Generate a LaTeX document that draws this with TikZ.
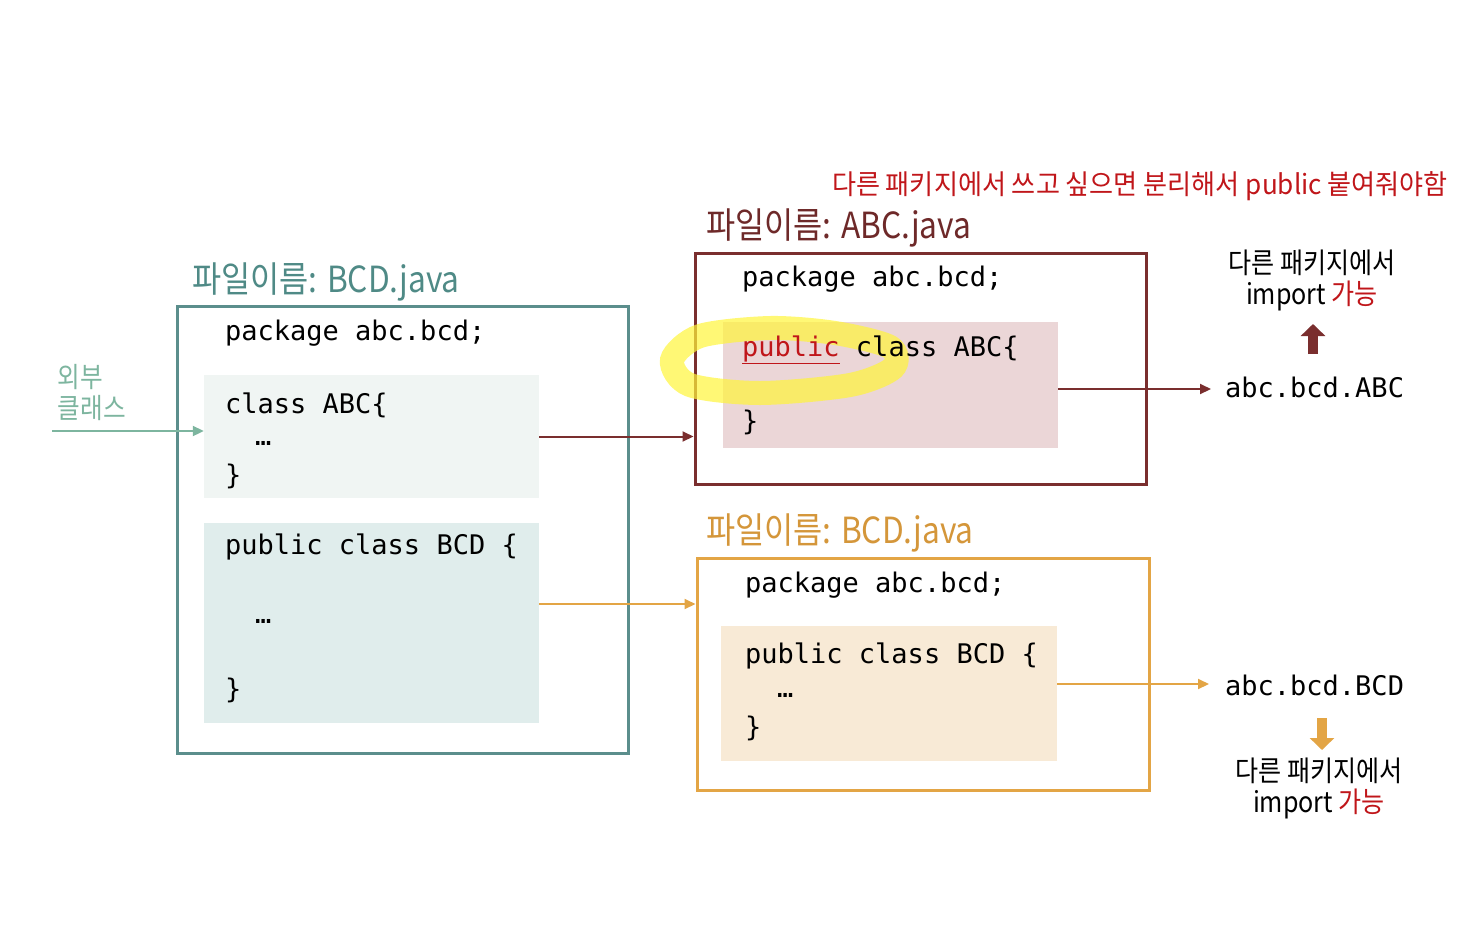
\documentclass[tikz,border=0pt]{standalone}
\usepackage{fontspec}
\setmonofont{DejaVu Sans Mono}
\newfontfamily\kr[FakeStretch=0.88]{Noto Sans CJK KR}
\newfontfamily\krwide[FakeStretch=0.95]{Noto Sans CJK KR}
\usepackage{tikz}
\usetikzlibrary{arrows.meta,positioning,calc}

\definecolor{tealline}{HTML}{5B8E8C}
\definecolor{tealtext}{HTML}{4F8A86}
\definecolor{extgreen}{HTML}{7DB59F}
\definecolor{tealfillA}{HTML}{F0F5F3}
\definecolor{tealfillB}{HTML}{E0EDEC}
\definecolor{darkred}{HTML}{7A2E2E}
\definecolor{pinkfill}{HTML}{EBD6D7}
\definecolor{kred}{HTML}{C0161A}
\definecolor{orangeline}{HTML}{E3A545}
\definecolor{orangetext}{HTML}{D4963A}
\definecolor{orangefill}{HTML}{F8EAD6}
\definecolor{hiyellow}{HTML}{FFF53A}

\begin{document}
\begin{tikzpicture}[
  x=1pt, y=-1pt,
  filebox/.style={draw, line width=3pt, minimum width=#1},
  classbox/.style={draw=none, inner sep=0pt},
  code/.style={anchor=west, inner sep=0pt, font=\ttfamily\fontsize{27}{32}\selectfont},
  title/.style={anchor=west, inner sep=0pt, font=\kr\fontsize{36}{40}\selectfont},
  label/.style={align=center, inner sep=0pt, font=\kr\fontsize{28.5}{31}\selectfont},
  wire/.style={-{Triangle[length=11pt,width=10pt]}, line width=2pt},
  fat/.style={-{Triangle[length=12pt,width=24pt]}, line width=10pt}
]
\useasboundingbox (0,0) rectangle (1476,930);

% left file: BCD.java
\node[filebox=451pt, draw=tealline, minimum height=447pt] (leftfile) at (402.5,529.5) {};
\node[title, text=tealtext] (lefttitle) at (192,282) {파일이름: BCD.java};
\node[classbox, fill=tealfillA, minimum width=335pt, minimum height=123pt] (clsabc) at (371.5,436.5) {};
\node[classbox, fill=tealfillB, minimum width=335pt, minimum height=200pt] (clsbcd) at (371.5,623) {};
\node[code] (lpkg) at (225,333) {package abc.bcd;};
\node[code] (labc1) at (225,405) {class ABC\{};
\node[code] (labc2) at (255,443) {…};
\node[code] (labc3) at (225,476) {\}};
\node[code] (lbcd1) at (225,547) {public class BCD \{};
\node[code] (lbcd2) at (255,621) {…};
\node[code] (lbcd3) at (225,690) {\}};

% outside class
\node[label, text=extgreen, align=left, font=\kr\fontsize{28}{31}\selectfont] (ext) at (92,393) {외부\\클래스};
\coordinate (extstart) at (52,431);
\draw[wire, extgreen] (extstart) -- (extstart -| clsabc.west);

% right top file: ABC.java
\node[filebox=451pt, draw=darkred, minimum height=231pt] (abcfile) at (920.5,368.5) {};
\node[title, text=darkred!90!black] (abctitle) at (706,228) {파일이름: ABC.java};
\node[label, text=kred, font=\krwide\fontsize{27.5}{30}\selectfont] (warn) at (1140,186) {다른 패키지에서 쓰고 싶으면 분리해서 public 붙여줘야함};
\node[classbox, fill=pinkfill, minimum width=335pt, minimum height=126pt] (pubabc) at (890.5,385) {};
\draw[hiyellow, opacity=0.7, line width=24pt, line cap=round]
  plot[smooth cycle] coordinates {(835,333) (890,347) (893,368) (850,385) (760,393) (690,385) (672,360) (700,336) (770,328)};
\node[code] (rpkg) at (742,279) {package abc.bcd;};
\node[code] (rabc1) at (742,350) {\textcolor{kred}{\underline{public}} class ABC\{};
\node[code] (rabc2) at (742,422) {\}};

% right bottom file: BCD.java
\node[filebox=452pt, draw=orangeline, minimum height=232pt] (bcdfile) at (923,674) {};
\node[title, text=orangetext] (bcdtitle) at (706,533) {파일이름: BCD.java};
\node[classbox, fill=orangefill, minimum width=336pt, minimum height=135pt] (pubbcd) at (889,693.5) {};
\node[code] (opkg) at (745,585) {package abc.bcd;};
\node[code] (obcd1) at (745,656) {public class BCD \{};
\node[code] (obcd2) at (777,695) {…};
\node[code] (obcd3) at (745,728) {\}};

% moves between files
\draw[wire, darkred] (clsabc.east) -- (clsabc.east -| abcfile.west);
\coordinate (bcdout) at ([yshift=19pt]clsbcd.east);
\draw[wire, orangeline] (bcdout) -- (bcdout -| bcdfile.west);

% full names
\node[code] (abcname) at (1225,387) {abc.bcd.ABC};
\node[code] (bcdname) at (1225,685) {abc.bcd.BCD};
\coordinate (abcout) at ([yshift=-4pt]pubabc.east);
\coordinate (bcdpub) at ([yshift=9.5pt]pubbcd.east);
\draw[wire, darkred, shorten >=14pt] (abcout) -- (abcout -| abcname.west);
\draw[wire, orangeline, shorten >=16pt] (bcdpub) -- (bcdpub -| bcdname.west);

\node[label] (abcuse) at (1312,280) {다른 패키지에서\\import \textcolor{kred}{가능}};
\node[label] (bcduse) at (1319,788) {다른 패키지에서\\import \textcolor{kred}{가능}};
\coordinate (uptail) at (1313,354);
\coordinate (downtail) at (1322,718);
\draw[fat, darkred] (uptail) -- ++(0,-30);
\draw[fat, orangeline] (downtail) -- ++(0,32);

\end{tikzpicture}
\end{document}
